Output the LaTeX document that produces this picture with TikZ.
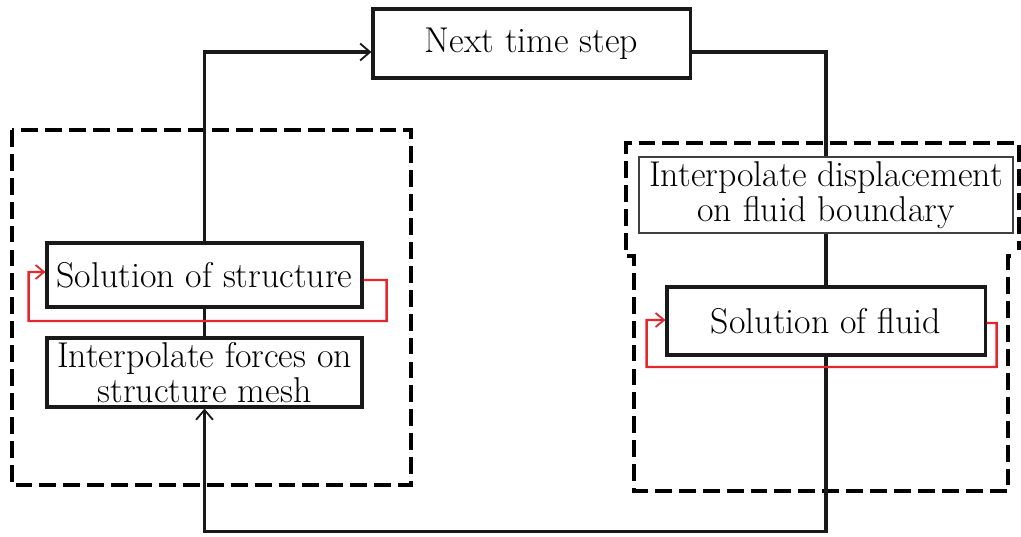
\documentclass[tikz,border=0pt]{standalone}
\usetikzlibrary{arrows.meta}
\definecolor{loopred}{RGB}{228,38,45}
\begin{document}
\begin{tikzpicture}[x=0.025cm,y=-0.025cm,
  box/.style={draw=black!90, line width=2.2pt, fill=white, inner sep=0pt, align=center,
    font=\fontsize{25.5}{24.5}\selectfont},
  thinbox/.style={box, line width=1.1pt, draw=black!75},
  conn/.style={line width=2.2pt, draw=black!90},
  tip/.style={-{Straight Barb[length=7pt,width=12pt,line width=1.3pt]}},
  redloop/.style={line width=1.7pt, draw=loopred, -{Straight Barb[length=6pt,width=10pt,line width=1.3pt]}},
  dbox/.style={line width=2.5pt, dash pattern=on 12pt off 5pt}]
\useasboundingbox (0,0) rectangle (1021,537);
% dashed groups
\draw[dbox] (12,130) rectangle (411,485);
\draw[dbox] (626,250) -- (626,143) -- (1019,143) -- (1019,250);
\draw[dbox] (627,256) -- (634,256) -- (634,491) -- (1008,491) -- (1008,256) -- (1014,256);
% nodes
\node[box, minimum width=7.925cm, minimum height=1.725cm] (next) at (531.5,43.5) {Next time step};
\node[box, minimum width=7.875cm, minimum height=1.6cm] (sols) at (204.5,275) {Solution of structure};
\node[box, minimum width=7.875cm, minimum height=1.725cm] (intf) at (204.5,372.5) {Interpolate forces on\\structure mesh};
\node[thinbox, minimum width=9.35cm, minimum height=1.9cm] (disp) at (826,195) {Interpolate displacement\\on fluid boundary};
\node[box, minimum width=7.95cm, minimum height=1.7cm] (solf) at (826,321) {Solution of fluid};
% connectors
\draw[conn, tip] (sols.north) |- ([yshift=-0.2125cm]next.west);
\draw[conn] ([yshift=-0.2125cm]next.east) -| (disp.north);
\draw[conn] (disp.south) -- (solf.north);
\draw[conn] (sols.south) -- (intf.north);
\draw[conn, tip] (solf.south) -- ++(0,175) -| (intf.south);
% red iteration loops
\draw[redloop] ([yshift=-0.125cm]sols.east) -- ++(23,0) -- ++(0,41) -- ++(-358,0) -- ++(0,-49) -- ([yshift=0.075cm]sols.west);
\draw[redloop] ([yshift=-0.05cm]solf.east) -- ++(10,0) -- ++(0,44) -- ++(-350,0) -- ++(0,-47) -- ([yshift=0.025cm]solf.west);
\end{tikzpicture}
\end{document}
